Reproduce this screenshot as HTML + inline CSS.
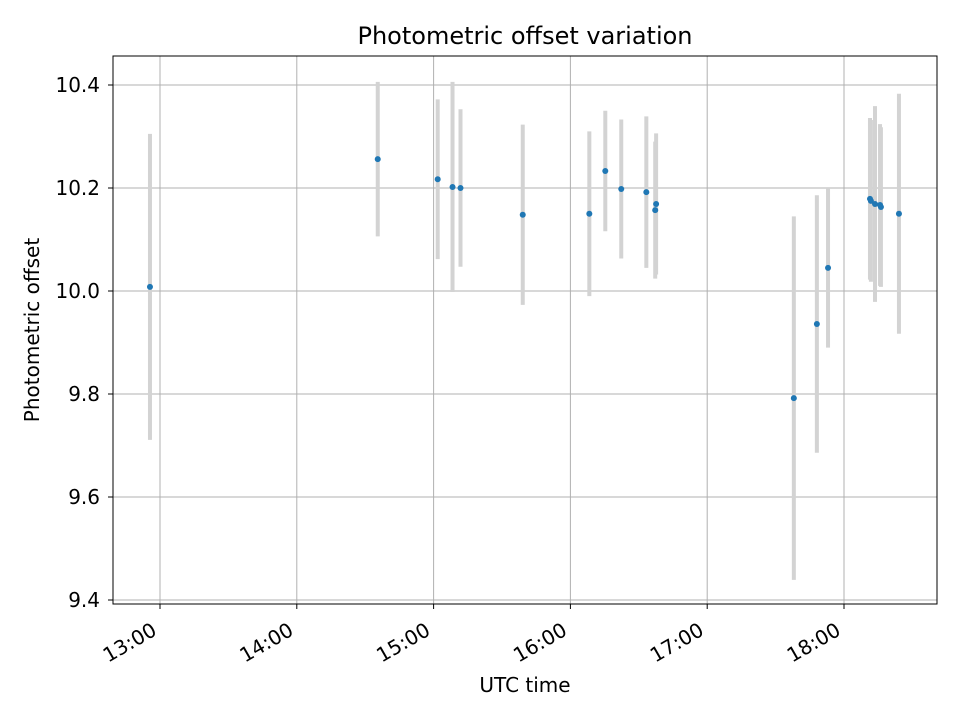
<!DOCTYPE html>
<html><head><meta charset="utf-8"><style>
body{margin:0;background:#fff;font-family:"Liberation Sans","DejaVu Sans",sans-serif}
svg text{font-family:"DejaVu Sans","Liberation Sans",sans-serif;fill:#000}
</style></head><body>
<svg id="chart" width="960" height="720">
<rect width="960" height="720" fill="#fff"/>
<g id="grid"></g>
<g id="bars"></g>
<g id="pts"></g>
<g id="axes"></g>
<rect x="113" y="56" width="824" height="548" fill="none" stroke="#000" stroke-width="1"/>
<text x="525" y="44" font-size="24" text-anchor="middle">Photometric offset variation</text>
<text x="525" y="692" font-size="20" text-anchor="middle">UTC time</text>
<text transform="translate(39,330) rotate(-90)" font-size="20" text-anchor="middle">Photometric offset</text>
</svg>
<script>
const times=[775.6,875.5,901.8,908.3,911.8,939.1,968.3,975.3,982.3,993.3,997.2,997.6,1058,1068.1,1073,1091.4,1091.8,1093.6,1095.8,1096.2,1104.1];
const values=[10.008,10.256,10.217,10.202,10.2,10.148,10.15,10.233,10.198,10.192,10.157,10.169,9.792,9.936,10.045,10.179,10.175,10.169,10.167,10.163,10.15];
const errors=[0.297,0.15,0.155,0.204,0.153,0.175,0.16,0.117,0.135,0.147,0.133,0.137,0.353,0.25,0.155,0.157,0.157,0.19,0.157,0.155,0.233];
const yTicks=[9.4,9.6,9.8,10.0,10.2,10.4];
const xTicks=[780,840,900,960,1020,1080];
const xTickLabels=["13:00","14:00","15:00","16:00","17:00","18:00"];
const NS="http://www.w3.org/2000/svg";
function X(m){return 160+(m-780)*136.8/60;}
function Y(v){return 291-(v-10)*515;}
function mk(p,t,a){const e=document.createElementNS(NS,t);for(const k in a)e.setAttribute(k,a[k]);document.getElementById(p).appendChild(e);return e;}
yTicks.forEach((v,i)=>{
 const l=mk('grid','line',{x1:113,x2:937,y1:Y(v),y2:Y(v),stroke:'#b0b0b0','stroke-width':1});
 
 
 mk('axes','line',{x1:108,x2:113,y1:Y(v),y2:Y(v),stroke:'#000'});
 const t=mk('axes','text',{x:100,y:Y(v)+7,'font-size':20,'text-anchor':'end'});
 t.textContent=v.toFixed(1);
 
 
});
xTicks.forEach((m,i)=>{
 const l=mk('grid','line',{x1:X(m),x2:X(m),y1:56,y2:604,stroke:'#b0b0b0','stroke-width':1});
 
 
 mk('axes','line',{x1:X(m),x2:X(m),y1:604,y2:609,stroke:'#000'});
 const t=mk('axes','text',{transform:`translate(${X(m)-2},${634}) rotate(-30)`,'font-size':20,'text-anchor':'end'});
 t.textContent=xTickLabels[i];
 
 
});
times.forEach((m,i)=>{
 const b=mk('bars','line',{x1:X(m),x2:X(m),y1:Y(values[i]+errors[i]),y2:Y(values[i]-errors[i]),stroke:'#d3d3d3','stroke-width':4});
 
 
 const c=mk('pts','circle',{cx:X(m),cy:Y(values[i]),r:3,fill:'#1f77b4'});
 
 
});
</script>
</body></html>
